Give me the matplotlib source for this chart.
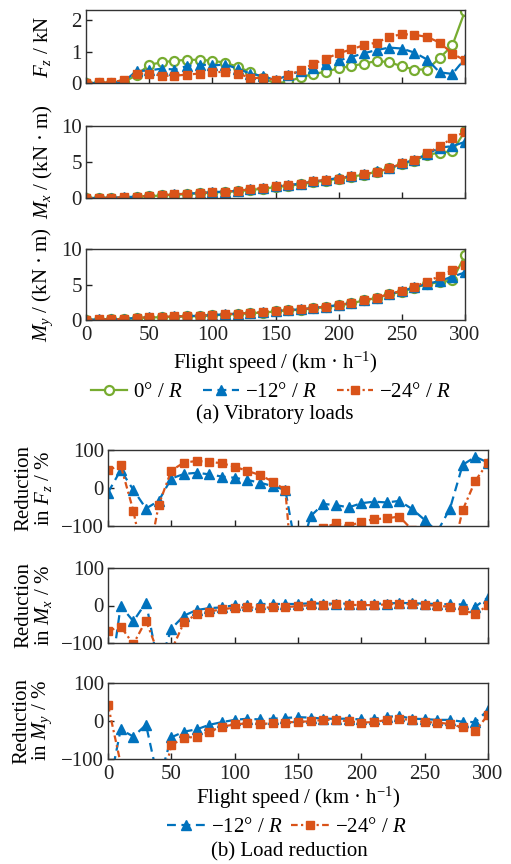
import numpy as np
import matplotlib
matplotlib.use("Agg")
import matplotlib.pyplot as plt
from matplotlib.lines import Line2D

plt.rcParams['font.family'] = ['Liberation Serif', 'DejaVu Serif']
plt.rcParams['mathtext.fontset'] = 'custom'
plt.rcParams['mathtext.rm'] = 'Liberation Serif'
plt.rcParams['mathtext.it'] = 'Liberation Serif:italic'
plt.rcParams['font.size'] = 15

speed = list(range(0, 310, 10))

fz_0 = [0, 0, 0, 0.03, 0.25, 0.58, 0.66, 0.71, 0.74, 0.74, 0.71, 0.65, 0.52, 0.35, 0.17, -0.02,
        0.05, 0.18, 0.29, 0.36, 0.47, 0.54, 0.62, 0.70, 0.67, 0.53, 0.43, 0.43, 0.80, 1.20, 2.30]
fz_12 = [0, 0, 0, 0.05, 0.38, 0.40, 0.46, 0.43, 0.54, 0.59, 0.56, 0.59, 0.46, 0.30, 0.22, 0.09,
         0.25, 0.38, 0.48, 0.61, 0.72, 0.83, 0.95, 1.05, 1.13, 1.10, 0.97, 0.75, 0.34, 0.29, 0.78]
fz_24 = [0, 0.02, 0.02, 0.10, 0.30, 0.30, 0.23, 0.23, 0.27, 0.30, 0.34, 0.36, 0.30, 0.17, 0.15, 0.10,
         0.25, 0.41, 0.61, 0.78, 0.95, 1.07, 1.21, 1.29, 1.47, 1.56, 1.54, 1.47, 1.29, 0.94, 0.72]

mx_0 = [0, 0, 0, 0.05, 0.15, 0.25, 0.35, 0.45, 0.55, 0.65, 0.75, 0.85, 0.95, 1.1, 1.3, 1.5,
        1.7, 1.9, 2.2, 2.4, 2.7, 2.95, 3.25, 3.65, 4.1, 4.7, 5.2, 6.0, 6.3, 6.5, 9.3]
mx_12 = [0, 0, 0.05, 0.1, 0.2, 0.3, 0.4, 0.5, 0.6, 0.7, 0.8, 0.9, 1.0, 1.2, 1.4, 1.6,
         1.8, 2.0, 2.3, 2.5, 2.8, 3.0, 3.3, 3.7, 4.1, 4.8, 5.3, 6.1, 7.0, 7.2, 7.8]
mx_24 = [0, 0, 0.05, 0.1, 0.2, 0.3, 0.4, 0.5, 0.6, 0.7, 0.8, 0.9, 1.0, 1.2, 1.4, 1.6,
         1.75, 2.0, 2.3, 2.5, 2.7, 3.0, 3.3, 3.6, 4.1, 4.8, 5.3, 6.2, 7.2, 8.3, 9.2]

my_0 = [0, 0.05, 0.1, 0.15, 0.25, 0.35, 0.4, 0.45, 0.5, 0.55, 0.65, 0.75, 0.85, 0.95, 1.05, 1.2,
        1.35, 1.45, 1.65, 1.85, 2.05, 2.35, 2.75, 3.1, 3.6, 4.0, 4.5, 5.1, 5.3, 5.6, 9.1]
my_12 = [0, 0.1, 0.1, 0.15, 0.3, 0.4, 0.45, 0.5, 0.55, 0.6, 0.7, 0.8, 0.9, 1.0, 1.1, 1.3,
         1.4, 1.5, 1.7, 1.9, 2.1, 2.4, 2.8, 3.1, 3.6, 4.1, 4.6, 5.1, 5.5, 6.1, 6.7]
my_24 = [0, 0.1, 0.1, 0.15, 0.3, 0.4, 0.45, 0.5, 0.55, 0.6, 0.7, 0.8, 0.9, 1.0, 1.1, 1.3,
         1.4, 1.5, 1.7, 1.9, 2.1, 2.4, 2.8, 3.1, 3.7, 4.1, 4.7, 5.4, 6.2, 7.0, 7.8]

rfz_12 = [-12, 47, -5, -54, -34, 25, 37, 40, 36, 30, 27, 21, 14, 5, -5, -190,
          -74, -42, -45, -51, -40, -36, -38, -34, -55, -84, -115, -54, 61, 82, 67]
rfz_24 = [47, 60, -60, -220, -45, 46, 67, 71, 69, 65, 56, 45, 34, 17, -5, -400,
          -300, -105, -93, -100, -89, -82, -80, -75, -110, -250, -300, -200, -58, 19, 67]
rmx_12 = [-240, -1, -42, 8, -165, -62, -27, -12, -7, -5, 1, 2, 4, 4, 4, 4,
          6, 5, 5, 5, 5, 5, 5, 7, 6, 5, 4, 3, 3, -3, 21]
rmx_24 = [-68, -56, -103, -40, -130, -120, -45, -23, -16, -10, -6, -5, -6, -5, -4, -2,
          1, 2, 3, 2, 1, 1, 3, 5, 3, 1, 0, -4, -12, -23, 1]
rmy_12 = [-190, -22, -41, -10, -162, -43, -28, -22, -10, -3, 3, 6, 4, 6, 8, 10,
          9, 6, 6, 6, 4, 6, 11, 13, 6, 5, 3, 3, -2, -3, 29]
rmy_24 = [42, -112, -300, -300, -204, -63, -45, -41, -28, -15, -9, -6, -8, -6, -4, -2,
          -1, 3, 3, -1, -4, -3, 3, 5, 3, -3, -4, -8, -17, -26, 16]

labels = ["0° / $R$", "−12° / $R$", "−24° / $R$"]
xticks = [0, 50, 100, 150, 200, 250, 300]

GREEN = '#77AC30'
BLUE = '#0072BD'
ORANGE = '#D95319'
styles = {
    'g': dict(color=GREEN, ls='-', lw=1.6, marker='o', ms=6.5, mfc='white', mec=GREEN, mew=1.6),
    'b': dict(color=BLUE, ls=(0, (4, 2.5)), lw=1.6, marker='^', ms=7.5, mfc=BLUE, mec=BLUE),
    'o': dict(color=ORANGE, ls=(0, (3, 1.5, 1, 1.5)), lw=1.6, marker='s', ms=6, mfc=ORANGE, mec=ORANGE),
}

W, H = 511, 864
fig = plt.figure(figsize=(W / 100, H / 100), dpi=100)
FS = 15


def make_ax(x0, x1, y0, y1):
    return fig.add_axes([x0 / W, 1 - y1 / H, (x1 - x0) / W, (y1 - y0) / H])


def style_ax(ax, ylim, yticks, show_xlabels):
    ax.set_xlim(0, 300)
    ax.set_ylim(*ylim)
    ax.set_xticks(xticks)
    ax.set_yticks(yticks)
    ax.tick_params(direction='in', length=4, width=1, top=False, right=False,
                   labelsize=FS, pad=3, colors='#222222')
    ax.tick_params(axis='x', pad=4)
    if not show_xlabels:
        ax.tick_params(labelbottom=False)
    for s in ax.spines.values():
        s.set_linewidth(1.0)
        s.set_color('#333333')


# (a) vibratory loads
a1 = make_ax(86, 465, 10, 83)
a2 = make_ax(86, 465, 126, 198)
a3 = make_ax(86, 465, 249, 320)
for ax, (d0, d12, d24) in zip([a1, a2, a3], [(fz_0, fz_12, fz_24), (mx_0, mx_12, mx_24), (my_0, my_12, my_24)]):
    ax.plot(speed, d0, **styles['g'])
    ax.plot(speed, d12, **styles['b'])
    ax.plot(speed, d24, **styles['o'])
style_ax(a1, (0, 2.33), [0, 1, 2], False)
style_ax(a2, (0, 10), [0, 5, 10], False)
style_ax(a3, (0, 10), [0, 5, 10], True)
a1.set_ylabel("$F_z$ / kN", fontsize=FS)
a2.set_ylabel("$M_x$ / (kN · m)", fontsize=FS)
a3.set_ylabel("$M_y$ / (kN · m)", fontsize=FS)
a1.yaxis.set_label_coords(-0.087, 0.5)
a2.yaxis.set_label_coords(-0.082, 0.5)
a3.yaxis.set_label_coords(-0.082, 0.5)

fig.text(275.5 / W, 1 - 363 / H, "Flight speed / (km · h$^{-1}$)", ha='center', va='center', fontsize=FS)
handles_a = [Line2D([], [], **styles['g']), Line2D([], [], **styles['b']), Line2D([], [], **styles['o'])]
fig.legend(handles_a, labels, loc='center', bbox_to_anchor=(271 / W, 1 - 392 / H), ncol=3,
           frameon=False, fontsize=FS, handlelength=1.7, handletextpad=0.3, columnspacing=1.0,
           borderpad=0, borderaxespad=0)
fig.text(275 / W, 1 - 414 / H, "(a) Vibratory loads", ha='center', va='center', fontsize=FS)

# (b) load reduction
b1 = make_ax(108, 488, 450, 526)
b2 = make_ax(108, 488, 568, 643)
b3 = make_ax(108, 488, 683, 759)
for ax, (d12, d24) in zip([b1, b2, b3], [(rfz_12, rfz_24), (rmx_12, rmx_24), (rmy_12, rmy_24)]):
    ax.plot(speed, d12, **styles['b'])
    ax.plot(speed, d24, **styles['o'])
style_ax(b1, (-100, 100), [-100, 0, 100], False)
style_ax(b2, (-100, 100), [-100, 0, 100], False)
style_ax(b3, (-100, 100), [-100, 0, 100], True)
b1.set_ylabel("Reduction\nin $F_z$ / %", fontsize=FS, linespacing=0.95)
b2.set_ylabel("Reduction\nin $M_x$ / %", fontsize=FS, linespacing=0.95)
b3.set_ylabel("Reduction\nin $M_y$ / %", fontsize=FS, linespacing=0.95)
for ax in (b1, b2, b3):
    ax.yaxis.set_label_coords(-0.142, 0.5)

fig.text(298 / W, 1 - 798 / H, "Flight speed / (km · h$^{-1}$)", ha='center', va='center', fontsize=FS)
handles_b = [Line2D([], [], **styles['b']), Line2D([], [], **styles['o'])]
fig.legend(handles_b, labels[1:], loc='center', bbox_to_anchor=(287 / W, 1 - 827 / H), ncol=2,
           frameon=False, fontsize=FS, handlelength=1.8, handletextpad=0.3, columnspacing=0.4,
           borderpad=0, borderaxespad=0)
fig.text(289 / W, 1 - 852 / H, "(b) Load reduction", ha='center', va='center', fontsize=FS)

fig.savefig("out.png", dpi=100)
